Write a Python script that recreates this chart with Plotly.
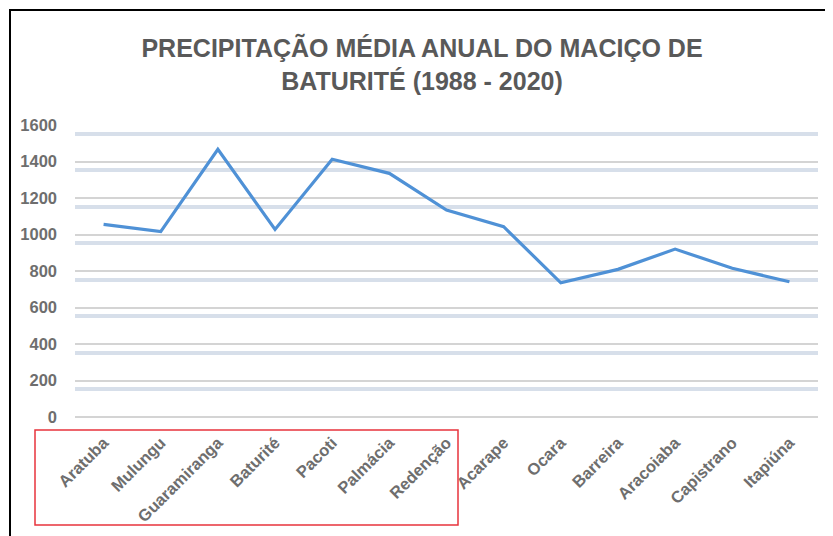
import plotly.graph_objects as go

municipios = ["Aratuba", "Mulungu", "Guaramiranga", "Baturité", "Pacoti", "Palmácia",
              "Redenção", "Acarape", "Ocara", "Barreira", "Aracoiaba", "Capistrano", "Itapiúna"]
precipitacao = [1055, 1016, 1467, 1028, 1412, 1335, 1134, 1043, 735, 809, 920, 815, 741]
y_ticks = [0, 200, 400, 600, 800, 1000, 1200, 1400, 1600]
titulo = "PRECIPITAÇÃO MÉDIA ANUAL DO MACIÇO DE<br>BATURITÉ (1988 - 2020)"

OFF = 8  # page body margin
W, H = 833 - OFF, 536 - OFF
# desired plot-area edges in window pixels
PL, PR, PT, PB = 75, 818, 125, 417
ML, MR, MT, MB = PL - OFF, W - (PR - OFF), PT - OFF, H - (PB - OFF)
pw, ph = W - ML - MR, H - MT - MB

def px_x(p):  # window pixel -> paper
    return (p - OFF - ML) / pw

def px_y(p):
    return (PB - p) / ph

band_offset = 49  # shadow band below each gridline (data units, ~9 px)

fig = go.Figure()
fig.add_trace(go.Scatter(x=municipios, y=precipitacao, yaxis="y2", mode="lines",
                         line=dict(color="rgba(0,0,0,0)", width=0), hoverinfo="skip",
                         showlegend=False))
fig.add_trace(go.Scatter(x=municipios, y=precipitacao, mode="lines",
                         line=dict(color="#4f91d6", width=3.2), showlegend=False))

font_main = "Liberation Sans, Arial, sans-serif"
fig.update_layout(
    width=W, height=H,
    margin=dict(l=ML, r=MR, t=MT, b=MB),
    paper_bgcolor="white", plot_bgcolor="white",
    title=dict(text="<b>" + titulo + "</b>", x=(422 - OFF) / W, xref="container",
               xanchor="center", y=1 - (57 - OFF) / H, yref="container", yanchor="middle",
               font=dict(family=font_main, size=25, color="#595959")),
    xaxis=dict(type="category", range=[-0.5, len(municipios) - 0.5], showgrid=False,
               showline=False, ticks="", tickangle=-45, ticklabelstandoff=12,
               tickfont=dict(family=font_main, size=16.5, color="#6e6e6e", weight="bold")),
    yaxis=dict(range=[0, 1600], tickvals=y_ticks, showgrid=True, gridcolor="#d4d4d4",
               gridwidth=1.5, zeroline=True, zerolinecolor="#d4d4d4", zerolinewidth=1.5,
               showline=False, ticks="", ticklabelstandoff=17,
               tickfont=dict(family=font_main, size=16.5, color="#6e6e6e", weight="bold")),
    yaxis2=dict(overlaying="y", range=[band_offset, 1600 + band_offset], tickvals=y_ticks,
                showgrid=True, gridcolor="#d7dfea", gridwidth=4, zeroline=False,
                showticklabels=False, showline=False, ticks=""),
    shapes=[
        dict(type="line", xref="paper", yref="paper", x0=px_x(10), x1=px_x(10),
             y0=px_y(10), y1=px_y(545), line=dict(color="black", width=2)),
        dict(type="line", xref="paper", yref="paper", x0=px_x(9), x1=px_x(845),
             y0=px_y(10), y1=px_y(10), line=dict(color="black", width=2)),
        dict(type="rect", xref="paper", yref="paper", x0=px_x(35), x1=px_x(458),
             y0=px_y(430), y1=px_y(525), line=dict(color="#e8333c", width=1.5)),
    ],
)

fig.write_html("out.html")
